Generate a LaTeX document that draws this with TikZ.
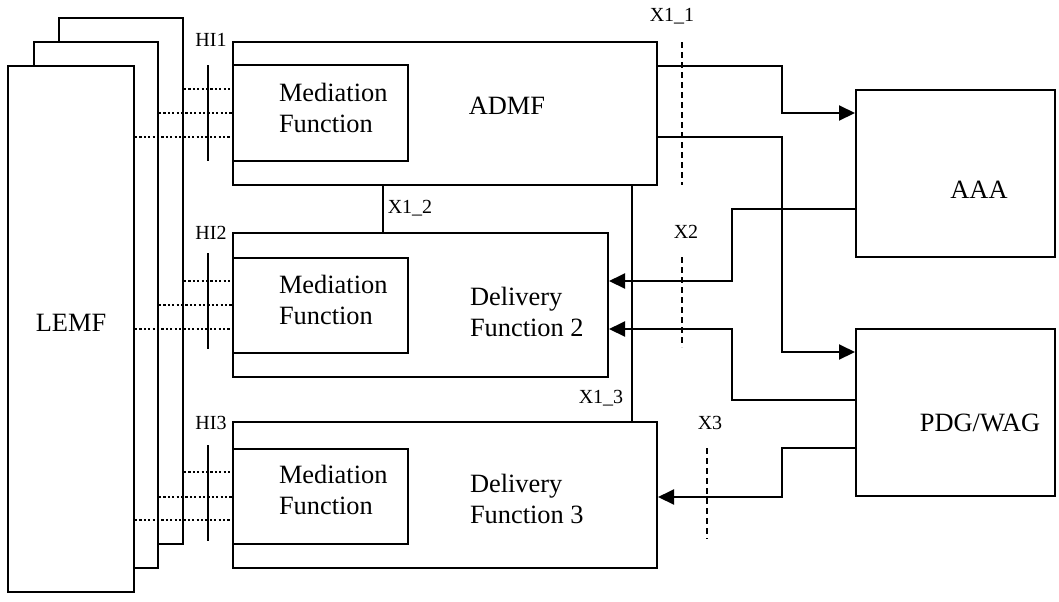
\documentclass[tikz,border=0pt]{standalone}
\usepackage{fontspec}
\setmainfont{Liberation Serif}
\usetikzlibrary{arrows.meta}
\usetikzlibrary{positioning}

\begin{document}
\begin{tikzpicture}[x=0.5pt, y=-0.5pt, line width=1pt,
    box/.style={draw, rectangle, fill=white, inner sep=0pt},
    txt/.style={font=\fontsize{13.2}{15.6}\selectfont, align=left, inner sep=0pt},
    lbl/.style={font=\fontsize{10}{12}\selectfont, inner sep=0pt},
    hi/.style={line width=1.3pt, dash pattern=on 1.1pt off 1.1pt},
    cut/.style={dash pattern=on 3pt off 2pt},
    link/.style={-{Triangle[length=8pt, width=7.5pt]}}]
    \useasboundingbox (0,0) rectangle (1059,601);

    % LEMF stack
    \node[box, minimum width=62pt, minimum height=263pt] (LEMFc) at (121,281) {};
    \node[box, minimum width=62pt, minimum height=263pt] (LEMFb) at (96,305) {};
    \node[box, minimum width=63pt, minimum height=263pt] (LEMF) at (71,329) {};
    \node[txt] (LEMFt) at (71,323) {LEMF};

    % ADMF
    \node[box, minimum width=212pt, minimum height=71.5pt] (ADMF) at (445,113.5) {};
    \node[box, minimum width=87.5pt, minimum height=48pt] (MF1) at (320.5,113) {};
    \node[txt, anchor=west] (MF1t) at (278,108) {Mediation\\Function};
    \node[txt] (ADMFt) at (507,106) {ADMF};

    % Delivery Function 2
    \node[box, minimum width=187.5pt, minimum height=72pt] (DF2) at (420.5,305) {};
    \node[box, minimum width=87.5pt, minimum height=47.5pt] (MF2) at (320.5,305.5) {};
    \node[txt, anchor=west] (MF2t) at (278,300) {Mediation\\Function};
    \node[txt, anchor=west] (DF2t) at (469,312) {Delivery\\Function 2};

    % Delivery Function 3
    \node[box, minimum width=212pt, minimum height=73pt] (DF3) at (445,495) {};
    \node[box, minimum width=87.5pt, minimum height=47.5pt] (MF3) at (320.5,496.5) {};
    \node[txt, anchor=west] (MF3t) at (278,490) {Mediation\\Function};
    \node[txt, anchor=west] (DF3t) at (469,499) {Delivery\\Function 3};

    % AAA and PDG/WAG
    \node[box, minimum width=99.5pt, minimum height=83.5pt] (AAA) at (955.5,173.5) {};
    \node[txt] (AAAt) at (979,190) {AAA};
    \node[box, minimum width=99.5pt, minimum height=83.5pt] (PDG) at (955.5,412.5) {};
    \node[txt] (PDGt) at (980,423) {PDG/WAG};

    % HI handover interfaces
    \node[lbl] (HI1) at (211,40) {HI1};
    \node[lbl] (HI2) at (211,233) {HI2};
    \node[lbl] (HI3) at (211,423) {HI3};
    \draw (208,65) -- (208,161);
    \draw (208,253) -- (208,349);
    \draw (208,445) -- (208,541);
    \foreach \y in {89,281,472} \draw[hi] (LEMFc.east |- 0,\y) -- (233,\y);
    \foreach \y in {113,305,497} \draw[hi] (LEMFb.east |- 0,\y) -- (233,\y);
    \foreach \y in {137,329,520} \draw[hi] (LEMF.east |- 0,\y) -- (233,\y);

    % X1 links
    \node[lbl] (X12) at (410,208) {X1\_2};
    \node[lbl] (X13) at (601,398) {X1\_3};
    \draw (ADMF.south -| 383,0) -- (DF2.north -| 383,0);
    \draw (ADMF.south -| 632,0) -- (DF3.north -| 632,0);

    % reference points
    \node[lbl] (X11) at (672,16) {X1\_1};
    \node[lbl] (X2) at (686,232) {X2};
    \node[lbl] (X3) at (710,423) {X3};
    \draw[cut] (682,42) -- (682,185);
    \draw[cut] (682,257) -- (682,347);
    \draw[cut] (707,448) -- (707,539);

    % Arrows
    \draw[link] (ADMF.east |- 0,66) -| (782,113) -- (AAA.west |- 0,113);
    \draw[link] (ADMF.east |- 0,137) -| (782,352) -- (PDG.west |- 0,352);
    \draw[link] (AAA.west |- 0,209) -| (732,281) -- (DF2.east |- 0,281);
    \draw[link] (PDG.west |- 0,400) -| (732,329) -- (DF2.east |- 0,329);
    \draw[link] (PDG.west |- 0,448) -| (782,497) -- (DF3.east |- 0,497);
\end{tikzpicture}
\end{document}
